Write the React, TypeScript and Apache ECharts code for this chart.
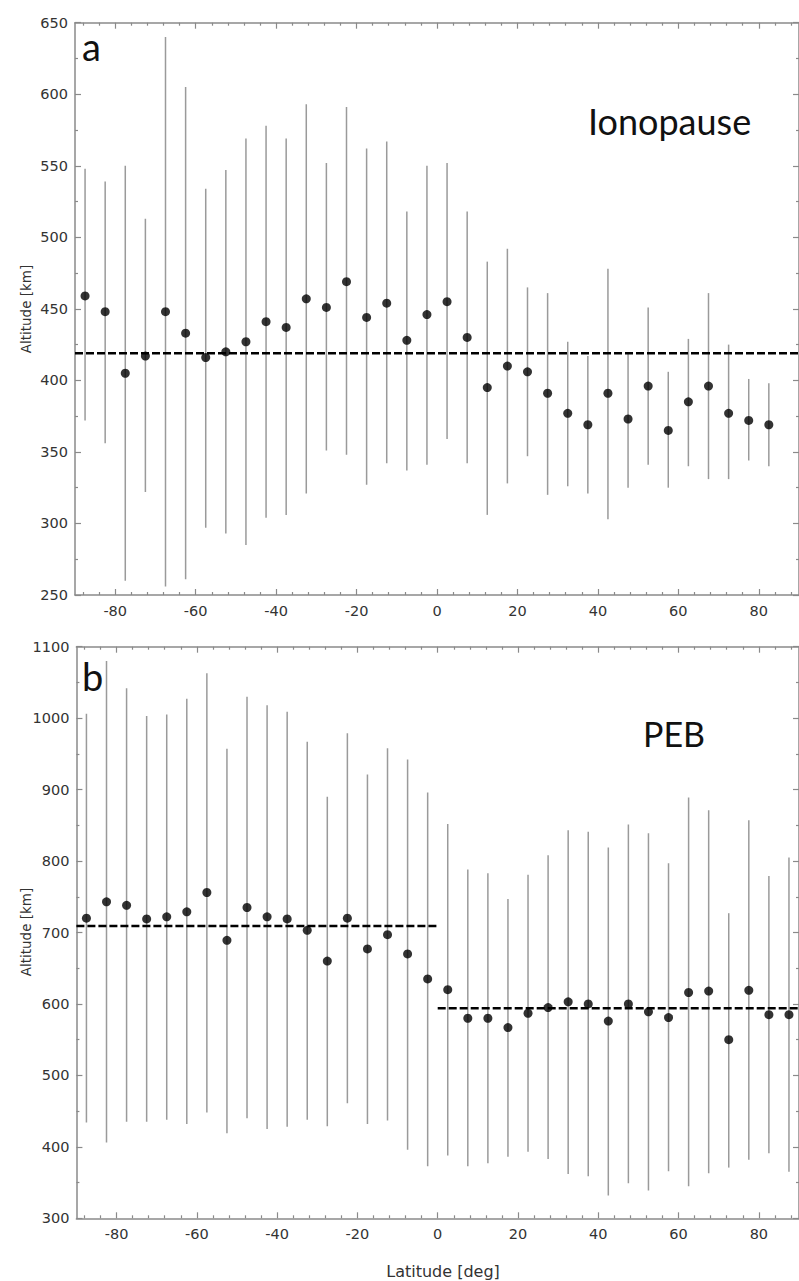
import React, { useEffect, useRef } from "react";
import * as echarts from "echarts";

// ---------- data ----------
const latA = [-87.5, -82.5, -77.5, -72.5, -67.5, -62.5, -57.5, -52.5, -47.5, -42.5, -37.5, -32.5, -27.5, -22.5, -17.5, -12.5, -7.5, -2.5, 2.5, 7.5, 12.5, 17.5, 22.5, 27.5, 32.5, 37.5, 42.5, 47.5, 52.5, 57.5, 62.5, 67.5, 72.5, 77.5, 82.5];
const altA = [459, 448, 405, 417, 448, 433, 416, 420, 427, 441, 437, 457, 451, 469, 444, 454, 428, 446, 455, 430, 395, 410, 406, 391, 377, 369, 391, 373, 396, 365, 385, 396, 377, 372, 369];
const highA = [548, 539, 550, 513, 640, 605, 534, 547, 569, 578, 569, 593, 552, 591, 562, 567, 518, 550, 552, 518, 483, 492, 465, 461, 427, 417, 478, 419, 451, 406, 429, 461, 425, 401, 398];
const lowA = [372, 356, 260, 322, 256, 261, 297, 293, 285, 304, 306, 321, 351, 348, 327, 342, 337, 341, 359, 342, 306, 328, 347, 320, 326, 321, 303, 325, 341, 325, 340, 331, 331, 344, 340];
const meanA = 419;

const latB = [-87.5, -82.5, -77.5, -72.5, -67.5, -62.5, -57.5, -52.5, -47.5, -42.5, -37.5, -32.5, -27.5, -22.5, -17.5, -12.5, -7.5, -2.5, 2.5, 7.5, 12.5, 17.5, 22.5, 27.5, 32.5, 37.5, 42.5, 47.5, 52.5, 57.5, 62.5, 67.5, 72.5, 77.5, 82.5, 87.5];
const altB = [720, 743, 738, 719, 722, 729, 756, 689, 735, 722, 719, 703, 660, 720, 677, 697, 670, 635, 620, 580, 580, 567, 587, 595, 603, 600, 576, 600, 589, 581, 616, 618, 550, 619, 585, 585];
const highB = [1006, 1080, 1042, 1003, 1005, 1027, 1063, 957, 1030, 1018, 1009, 967, 890, 979, 921, 958, 942, 896, 852, 788, 783, 747, 781, 808, 843, 841, 819, 851, 839, 797, 889, 871, 727, 857, 779, 805];
const lowB = [434, 406, 435, 435, 438, 432, 448, 419, 440, 425, 428, 438, 429, 461, 432, 437, 396, 373, 388, 373, 377, 386, 393, 383, 362, 359, 332, 349, 339, 366, 345, 363, 371, 382, 391, 365];
const meanBSouth = 709;
const meanBNorth = 594;

const latMajorTicks = [-80, -60, -40, -20, 0, 20, 40, 60, 80];
const latMinorTicks = [-88, -84, -76, -72, -68, -64, -56, -52, -48, -44, -36, -32, -28, -24, -16, -12, -8, -4, 4, 8, 12, 16, 24, 28, 32, 36, 44, 48, 52, 56, 64, 68, 72, 76, 84, 88];

const panelA = { yMin: 250, yMax: 650, yStep: 50 };
const panelB = { yMin: 300, yMax: 1100, yStep: 100 };

// ---------- styling ----------
const AXIS_COLOR = "#8a8a8a";
const LABEL_COLOR = "#333";
const BAR_COLOR = "#9a9a9a";
const FONT = "DejaVu Sans";

function xAxesFor(gridIndex: number) {
  const base = {
    type: "value",
    gridIndex,
    min: -90,
    max: 90,
    splitLine: { show: false },
  };
  return [
    {
      ...base,
      position: "bottom",
      axisLine: { show: true, onZero: false, lineStyle: { color: AXIS_COLOR, width: 1.5 } },
      axisTick: { show: true, inside: true, length: 6, customValues: latMajorTicks, lineStyle: { color: AXIS_COLOR, width: 1.2 } },
      axisLabel: { show: true, customValues: latMajorTicks, margin: 8, color: LABEL_COLOR, fontSize: 14.5, fontFamily: FONT },
    },
    {
      ...base,
      position: "bottom",
      axisLine: { show: false, onZero: false },
      axisTick: { show: true, inside: true, length: 3, customValues: latMinorTicks, lineStyle: { color: AXIS_COLOR, width: 1.2 } },
      axisLabel: { show: false },
    },
    {
      ...base,
      position: "top",
      axisLine: { show: true, onZero: false, lineStyle: { color: AXIS_COLOR, width: 1.5 } },
      axisTick: { show: true, inside: true, length: 6, customValues: latMajorTicks, lineStyle: { color: AXIS_COLOR, width: 1.2 } },
      axisLabel: { show: false },
    },
    {
      ...base,
      position: "top",
      axisLine: { show: false, onZero: false },
      axisTick: { show: true, inside: true, length: 3, customValues: latMinorTicks, lineStyle: { color: AXIS_COLOR, width: 1.2 } },
      axisLabel: { show: false },
    },
  ];
}

function yAxesFor(gridIndex: number, p: { yMin: number; yMax: number; yStep: number }) {
  const base = {
    type: "value",
    gridIndex,
    min: p.yMin,
    max: p.yMax,
    interval: p.yStep,
    splitLine: { show: false },
    minorTick: { show: true, splitNumber: 2, length: 3, lineStyle: { color: AXIS_COLOR, width: 1.2 } },
    minorSplitLine: { show: false },
    axisLine: { show: true, onZero: false, lineStyle: { color: AXIS_COLOR, width: 1.5 } },
    axisTick: { show: true, inside: true, length: 6, lineStyle: { color: AXIS_COLOR, width: 1.2 } },
  };
  return [
    {
      ...base,
      position: "left",
      axisLabel: { show: true, margin: 7, color: LABEL_COLOR, fontSize: 14.5, fontFamily: FONT, formatter: (v: number) => String(v) },
    },
    {
      ...base,
      position: "right",
      axisLabel: { show: false },
    },
  ];
}

function errorBars(lat: number[], low: number[], high: number[], xi: number, yi: number) {
  return {
    type: "custom",
    xAxisIndex: xi,
    yAxisIndex: yi,
    data: lat.map((x, i) => [x, low[i], high[i]]),
    encode: { x: 0, y: [1, 2] },
    z: 2,
    renderItem: (params: any, api: any) => {
      const p1 = api.coord([api.value(0), api.value(1)]);
      const p2 = api.coord([api.value(0), api.value(2)]);
      return {
        type: "line",
        shape: { x1: p1[0], y1: p1[1], x2: p2[0], y2: p2[1] },
        style: { stroke: BAR_COLOR, lineWidth: 1.5 },
      };
    },
  };
}

function dots(lat: number[], alt: number[], xi: number, yi: number) {
  return {
    type: "scatter",
    xAxisIndex: xi,
    yAxisIndex: yi,
    data: lat.map((x, i) => [x, alt[i]]),
    symbol: "circle",
    symbolSize: 9,
    itemStyle: { color: "#000" },
    z: 4,
  };
}

function dashed(x0: number, x1: number, y: number, xi: number, yi: number) {
  return {
    type: "line",
    xAxisIndex: xi,
    yAxisIndex: yi,
    data: [[x0, y], [x1, y]],
    symbol: "none",
    lineStyle: { color: "#000", width: 2.5, type: [8, 3] },
    z: 3,
  };
}

export default function App() {
  const ref = useRef<HTMLDivElement>(null);
  useEffect(() => {
    if (!ref.current) return;
    const chart = echarts.init(ref.current, null, { renderer: "svg" });
    const option: any = {
      animation: false,
      backgroundColor: "#fff",
      grid: [
        { left: 75, top: 22.7, width: 726, height: 572.3, show: false },
        { left: 76.4, top: 646.7, width: 725.8, height: 571.6, show: false },
      ],
      xAxis: [...xAxesFor(0), ...xAxesFor(1)],
      yAxis: [...yAxesFor(0, panelA), ...yAxesFor(1, panelB)],
      series: [
        errorBars(latA, lowA, highA, 0, 0),
        dashed(-90, 90, meanA, 0, 0),
        dots(latA, altA, 0, 0),
        errorBars(latB, lowB, highB, 4, 2),
        dashed(-90, 0, meanBSouth, 4, 2),
        dashed(0, 90, meanBNorth, 4, 2),
        dots(latB, altB, 4, 2),
      ],
      graphic: [
        { type: "text", x: 82, y: 46, style: { text: "a", font: "38px Lato", fill: "#111", verticalAlign: "middle", align: "left" } },
        { type: "text", x: 82, y: 676, style: { text: "b", font: "38px Lato", fill: "#111", verticalAlign: "middle", align: "left" } },
        { type: "text", x: 588, y: 121, style: { text: "Ionopause", font: "36px Lato", fill: "#111", verticalAlign: "middle", align: "left" } },
        { type: "text", x: 643, y: 733, style: { text: "PEB", font: "34px Lato", fill: "#111", verticalAlign: "middle", align: "left" } },
        { type: "text", x: 26, y: 309, rotation: Math.PI / 2, style: { text: "Altitude [km]", font: "13.5px 'DejaVu Sans'", fill: LABEL_COLOR, verticalAlign: "middle", align: "center" } },
        { type: "text", x: 26, y: 932, rotation: Math.PI / 2, style: { text: "Altitude [km]", font: "13.5px 'DejaVu Sans'", fill: LABEL_COLOR, verticalAlign: "middle", align: "center" } },
        { type: "text", x: 443, y: 1271, style: { text: "Latitude [deg]", font: "16px 'DejaVu Sans'", fill: LABEL_COLOR, verticalAlign: "middle", align: "center" } },
      ],
    };
    chart.setOption(option);
    return () => chart.dispose();
  }, []);
  return (
    <div
      ref={ref}
      style={{ position: "fixed", left: 0, top: 0, width: 799, height: 1281, background: "#fff" }}
    />
  );
}
